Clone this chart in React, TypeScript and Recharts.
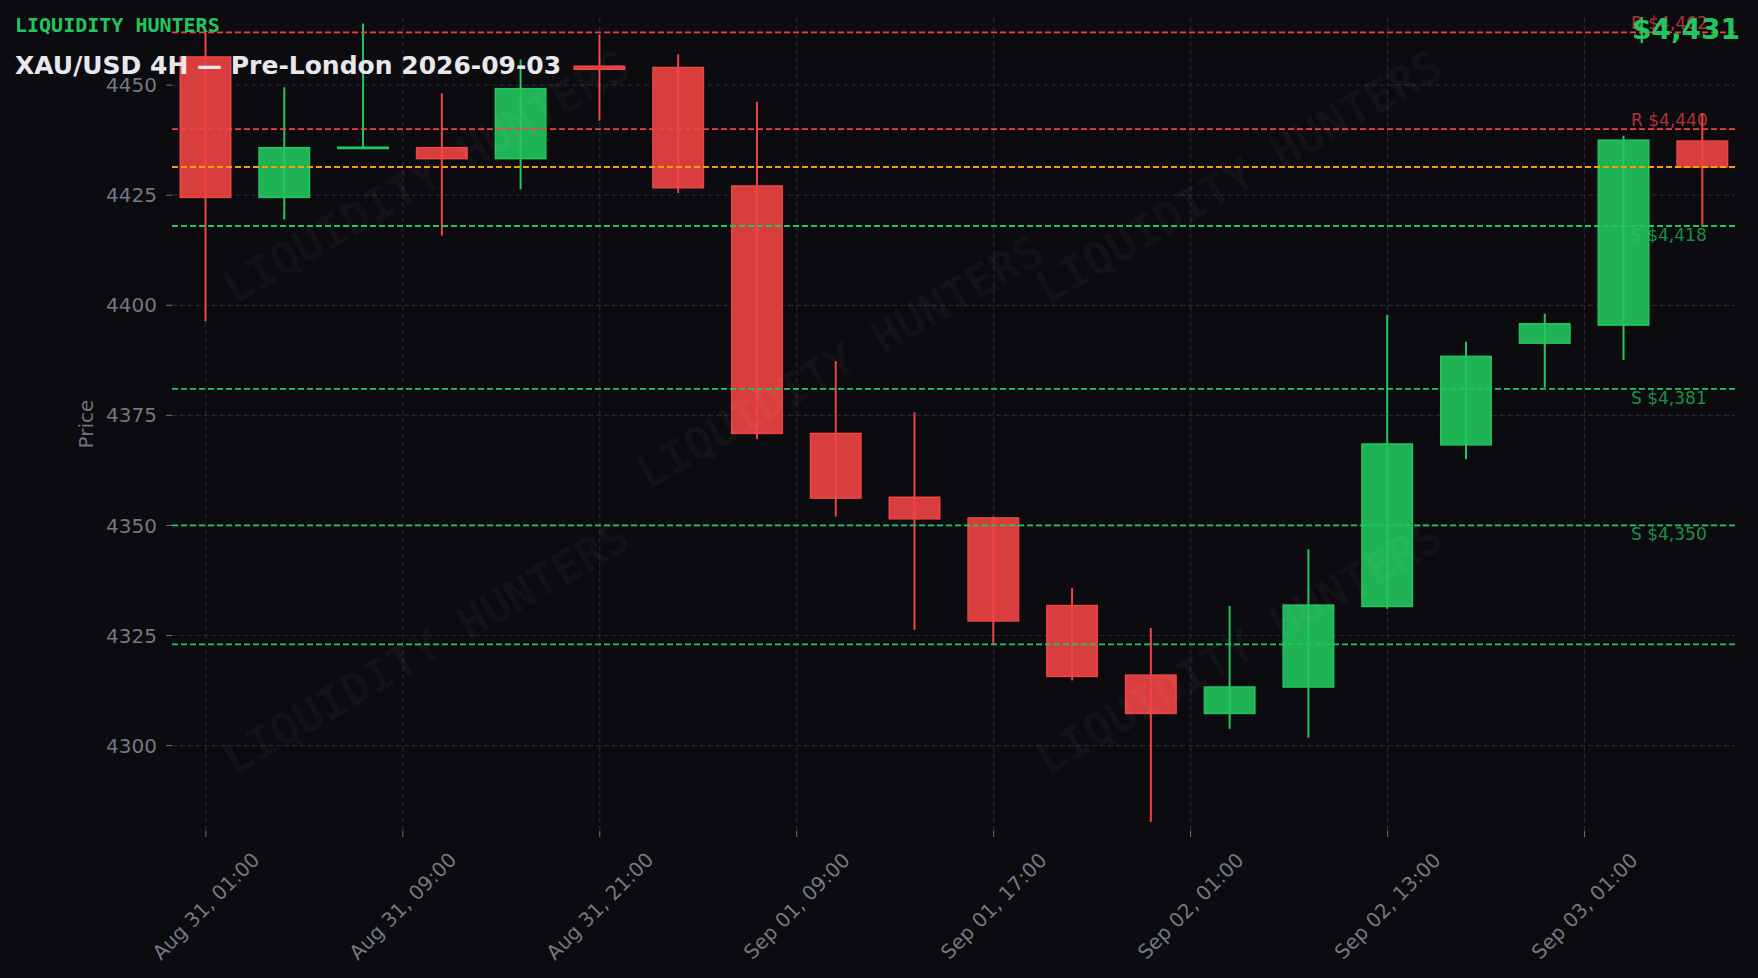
import { Bar, ComposedChart, ReferenceLine, XAxis, YAxis } from "recharts";

const CANDLE_INDEX = [0, 1, 2, 3, 4, 5, 6, 7, 8, 9, 10, 11, 12, 13, 14, 15, 16, 17, 18, 19];
const OPEN = [4456.4, 4424.5, 4435.6, 4435.8, 4433.3, 4454.3, 4454.0, 4427.1, 4370.9, 4356.4, 4351.7, 4331.8, 4316.0, 4307.3, 4313.3, 4331.6, 4368.3, 4391.4, 4395.5, 4437.3];
const HIGH = [4462.0, 4449.5, 4464.0, 4448.1, 4455.8, 4461.5, 4457.0, 4446.2, 4387.3, 4375.7, 4352.0, 4335.8, 4326.7, 4331.7, 4344.6, 4397.8, 4391.7, 4398.1, 4438.5, 4443.6];
const LOW = [4396.4, 4419.5, 4435.5, 4415.8, 4426.3, 4441.9, 4425.5, 4369.6, 4352.0, 4326.3, 4323.0, 4314.8, 4282.7, 4303.8, 4301.8, 4331.1, 4365.0, 4381.3, 4387.6, 4417.8];
const CLOSE = [4424.5, 4435.8, 4435.9, 4433.3, 4449.2, 4453.6, 4426.7, 4370.9, 4356.2, 4351.5, 4328.3, 4315.7, 4307.3, 4313.3, 4331.9, 4368.5, 4388.4, 4395.8, 4437.5, 4431.4];

const X_TICKS = [0, 2.5, 5, 7.5, 10, 12.5, 15, 17.5];
const X_TICK_LABELS = [
  "Aug 31, 01:00",
  "Aug 31, 09:00",
  "Aug 31, 21:00",
  "Sep 01, 09:00",
  "Sep 01, 17:00",
  "Sep 02, 01:00",
  "Sep 02, 13:00",
  "Sep 03, 01:00",
];
const Y_TICKS = [4300, 4325, 4350, 4375, 4400, 4425, 4450];

const LEVEL_PRICES = [4462, 4440, 4418, 4381, 4350, 4323];
const LEVEL_KINDS = ["R", "R", "S", "S", "S", "S"];
const LEVEL_LABELS = ["R $4,462", "R $4,440", "S $4,418", "S $4,381", "S $4,350", ""];
const LAST_PRICE = 4431.4;
const LAST_PRICE_LABEL = "$4,431";

const BRAND = "LIQUIDITY HUNTERS";
const TITLE = "XAU/USD 4H — Pre-London 2026-09-03";
const WATERMARK_SPOTS = [
  [426, 177],
  [840, 362],
  [1239, 177],
  [426, 648],
  [1239, 648],
];

const BG = "#0b0b10";
const UP = "#22c55e";
const DOWN = "#ef4444";
const GRID = "#262733";
const AXIS_TEXT = "#737884";
const FONT = "DejaVu Sans, sans-serif";
const MONO = "DejaVu Sans Mono, monospace";

const rows = CANDLE_INDEX.map((i) => ({
  i,
  open: OPEN[i],
  high: HIGH[i],
  low: LOW[i],
  close: CLOSE[i],
  range: [LOW[i], HIGH[i]],
}));

function Candle(props: any) {
  const { x, y, width, height, payload } = props;
  if (x == null || y == null) return null;
  const top = Math.min(y, y + height);
  const h = Math.abs(height);
  const span = payload.high - payload.low;
  const ppu = span > 0 ? h / span : 0;
  const up = payload.close >= payload.open;
  const color = up ? UP : DOWN;
  const hi = Math.max(payload.open, payload.close);
  const lo = Math.min(payload.open, payload.close);
  const bodyTop = top + (payload.high - hi) * ppu;
  const bodyH = Math.max((hi - lo) * ppu, 1);
  const cx = x + width / 2;
  return (
    <g>
      <line x1={cx} x2={cx} y1={top} y2={top + h} stroke={color} strokeWidth={2} />
      <rect
        x={x + 0.75}
        y={bodyTop}
        width={width - 1.5}
        height={bodyH}
        fill={color}
        fillOpacity={0.9}
        stroke={color}
        strokeWidth={1.5}
      />
    </g>
  );
}

function XTick(props: any) {
  const { x, y, payload } = props;
  const idx = X_TICKS.indexOf(payload.value);
  const text = idx >= 0 ? X_TICK_LABELS[idx] : "";
  return (
    <text
      x={0}
      y={0}
      transform={`translate(${x},${y + 67}) rotate(-45)`}
      textAnchor="middle"
      dominantBaseline="central"
      fill={AXIS_TEXT}
      fontSize={20}
      fontFamily={FONT}
    >
      {text}
    </text>
  );
}

function levelLabel(text: string, kind: string) {
  return (p: any) => {
    const vb = p.viewBox || {};
    if (!text || vb.x == null) return null;
    const lx = vb.x + vb.width * 0.9335;
    const ly = kind === "R" ? vb.y - 3 : vb.y + 15;
    return (
      <text x={lx} y={ly} fill={kind === "R" ? DOWN : UP} fillOpacity={0.72} fontSize={17} fontFamily={FONT}>
        {text}
      </text>
    );
  };
}

export default function App() {
  return (
    <div style={{ position: "absolute", left: 0, top: 0, width: 1758, height: 978, background: BG }}>
      <ComposedChart width={1758} height={978} data={rows} margin={{ top: 16, right: 23, bottom: 0, left: 0 }}>
        <XAxis
          dataKey="i"
          type="number"
          domain={[-0.43, 19.41]}
          ticks={X_TICKS}
          interval={0}
          allowDataOverflow
          height={147}
          tickSize={6}
          axisLine={false}
          tickLine={{ stroke: "#6b7280" }}
          tick={<XTick />}
        />
        <YAxis
          type="number"
          domain={[4280.6, 4465.7]}
          ticks={Y_TICKS}
          interval={0}
          allowDataOverflow
          width={172}
          tickSize={6}
          tickMargin={9}
          axisLine={false}
          tickLine={{ stroke: "#6b7280" }}
          tick={{ fill: AXIS_TEXT, fontSize: 20, fontFamily: FONT }}
        />
        {/* grid at the tick values only, behind the candles */}
        {Y_TICKS.map((t) => (
          <ReferenceLine key={`gy${t}`} y={t} stroke={GRID} strokeWidth={1.2} strokeDasharray="5 3" zIndex={-100} />
        ))}
        {X_TICKS.map((t) => (
          <ReferenceLine key={`gx${t}`} x={t} stroke={GRID} strokeWidth={1.2} strokeDasharray="5 3" zIndex={-100} />
        ))}
        <Bar dataKey="range" barSize={52} shape={<Candle />} isAnimationActive={false} />
        {LEVEL_PRICES.map((price, k) => (
          <ReferenceLine
            key={price}
            y={price}
            stroke={LEVEL_KINDS[k] === "R" ? DOWN : UP}
            strokeWidth={1.8}
            strokeDasharray="6 3"
            label={levelLabel(LEVEL_LABELS[k], LEVEL_KINDS[k])}
          />
        ))}
        <ReferenceLine y={LAST_PRICE} stroke="#f59e0b" strokeWidth={1.8} strokeDasharray="6 3" />
      </ComposedChart>
      <svg
        width={1758}
        height={978}
        style={{ position: "absolute", left: 0, top: 0, pointerEvents: "none" }}
      >
        {WATERMARK_SPOTS.map(([wx, wy], k) => (
          <text
            key={k}
            x={0}
            y={0}
            transform={`translate(${wx},${wy}) rotate(-30)`}
            textAnchor="middle"
            dominantBaseline="central"
            fill="#ffffff"
            fillOpacity={0.035}
            fontSize={45}
            fontWeight="bold"
            fontFamily={MONO}
          >
            {BRAND}
          </text>
        ))}
        <text
          x={0}
          y={0}
          transform="translate(86,424) rotate(-90)"
          textAnchor="middle"
          dominantBaseline="central"
          fill="#6b7280"
          fontSize={20}
          fontFamily={FONT}
        >
          Price
        </text>
        <text x={15} y={32} fill={UP} fontSize={20} fontWeight="bold" fontFamily={MONO}>
          {BRAND}
        </text>
        <text x={15} y={74} fill="#e8e8ec" fontSize={25} fontWeight="bold" fontFamily={FONT}>
          {TITLE}
        </text>
        <text x={1740} y={39} textAnchor="end" fill={UP} fontSize={28} fontWeight="bold" fontFamily={FONT}>
          {LAST_PRICE_LABEL}
        </text>
      </svg>
    </div>
  );
}
